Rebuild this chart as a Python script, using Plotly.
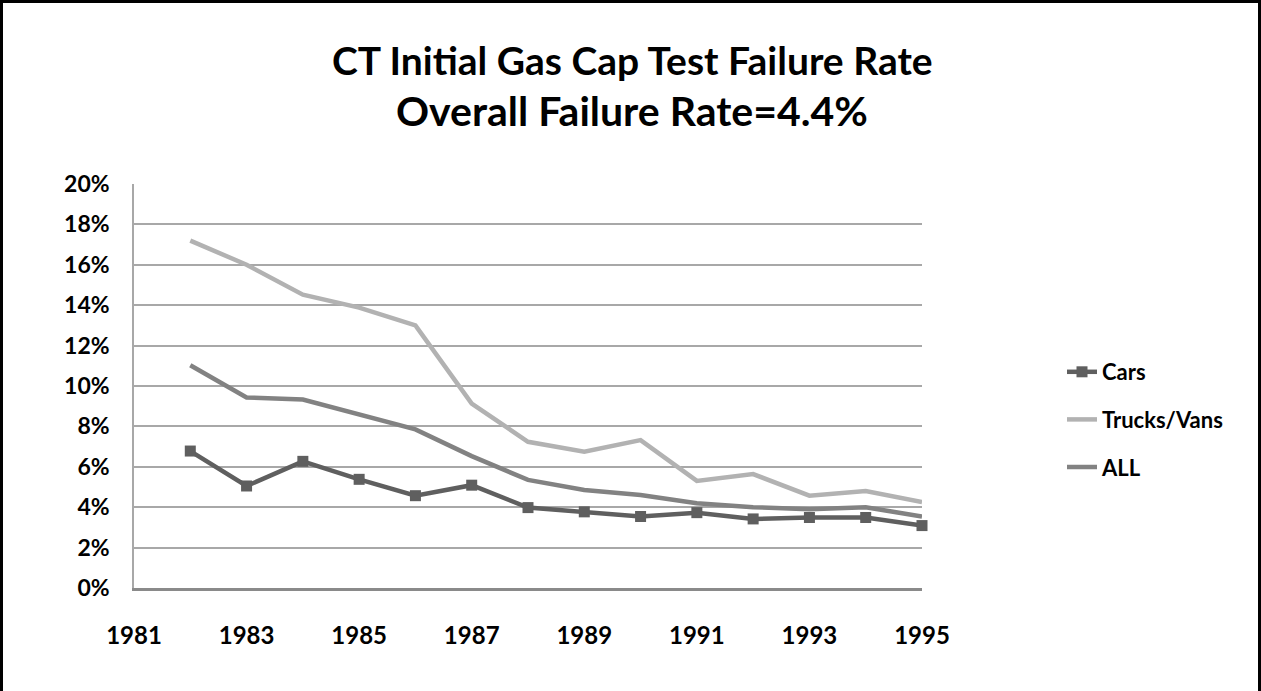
import plotly.graph_objects as go

years = list(range(1982, 1996))
cars = [6.78, 5.05, 6.27, 5.38, 4.57, 5.09, 3.98, 3.77, 3.54, 3.73, 3.42, 3.49, 3.49, 3.09]
trucks = [17.2, 16.0, 14.52, 13.88, 13.0, 9.13, 7.24, 6.75, 7.32, 5.3, 5.64, 4.57, 4.8, 4.25]
all_veh = [11.03, 9.43, 9.33, 8.6, 7.85, 6.53, 5.35, 4.85, 4.6, 4.2, 4.0, 3.9, 4.0, 3.54]

series_names = ["Cars", "Trucks/Vans", "ALL"]
title_lines = ["CT Initial Gas Cap Test Failure Rate", "Overall Failure Rate=4.4%"]

FONT = "Lato"

def pct(v):
    return [x / 100 for x in v]

fig = go.Figure()
fig.add_trace(go.Scatter(
    x=years, y=pct(cars), name=series_names[0], mode="lines+markers",
    line=dict(color="#5f5f5f", width=4.5),
    marker=dict(symbol="square", size=11, color="#5f5f5f"),
    legendgroup="a", cliponaxis=False,
))
fig.add_trace(go.Scatter(
    x=years, y=pct(trucks), name=series_names[1], mode="lines",
    line=dict(color="#b2b2b2", width=4.5),
    legendgroup="b", cliponaxis=False,
))
fig.add_trace(go.Scatter(
    x=years, y=pct(all_veh), name=series_names[2], mode="lines",
    line=dict(color="#828282", width=4.5),
    legendgroup="c", cliponaxis=False,
))

W, H = 1261, 691
L, R, T, B = 134, 339, 184, 103
pw, ph = W - L - R, H - T - B

def px_x(p):
    return (p - L) / pw

def px_y(p):
    return (H - B - p) / ph

fig.add_shape(type="rect", xref="paper", yref="paper",
              x0=px_x(1.5), x1=px_x(1259.5), y0=px_y(700), y1=px_y(1.5),
              line=dict(color="black", width=3), layer="above")

for txt, ypx, sz in zip(title_lines, [60, 110], [39, 41]):
    fig.add_annotation(
        text="<b>" + txt + "</b>", xref="paper", yref="paper",
        x=px_x(632), y=px_y(ypx), xanchor="center", yanchor="middle",
        showarrow=False, font=dict(family=FONT, size=sz, color="black"),
    )

fig.update_layout(
    width=W, height=H,
    margin=dict(l=L, r=R, t=T, b=B),
    paper_bgcolor="white", plot_bgcolor="white",
    font=dict(family=FONT, color="black"),
    showlegend=True,
    legend=dict(
        x=px_x(1062), xanchor="left", y=px_y(351), yanchor="top",
        font=dict(family=FONT, size=22, color="black", weight="bold"),
        tracegroupgap=16, bgcolor="rgba(0,0,0,0)",
    ),
    xaxis=dict(
        range=[1981, 1995], tick0=1981, dtick=2,
        showgrid=False, zeroline=False,
        showline=True, linecolor="#8a8a8a", linewidth=3,
        ticks="", ticklabelstandoff=24,
        tickfont=dict(family=FONT, size=24, color="black", weight="bold"),
    ),
    yaxis=dict(
        range=[0, 0.2], dtick=0.02, tickformat=".0%",
        showgrid=True, gridcolor="#a8a8a8", gridwidth=1.5,
        zeroline=False,
        showline=True, linecolor="#a8a8a8", linewidth=1.5,
        ticks="", ticklabelstandoff=18,
        tickfont=dict(family=FONT, size=23, color="black", weight="bold"),
    ),
)

fig.write_html("out.html", config={"displayModeBar": False},
               post_script="document.body.style.margin='0';")
